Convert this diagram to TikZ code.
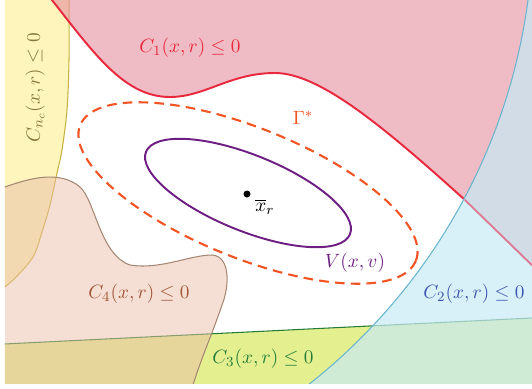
\documentclass[tikz,border=0pt]{standalone}
\usepackage{amsmath}
\usepackage{amssymb}
\usetikzlibrary{calc}

\definecolor{ncfill}{RGB}{253,245,188}
\definecolor{ncline}{RGB}{200,178,60}
\definecolor{nctext}{RGB}{135,120,60}
\definecolor{cofill}{RGB}{228,142,158}
\definecolor{coline}{RGB}{232,40,60}
\definecolor{copink}{RGB}{222,120,148}
\definecolor{cfourfill}{RGB}{235,191,169}
\definecolor{cfourline}{RGB}{165,135,115}
\definecolor{cfourtext}{RGB}{160,85,55}
\definecolor{cthreefill}{RGB}{201,223,33}
\definecolor{cthreeline}{RGB}{35,125,55}
\definecolor{ctwofill}{RGB}{199,234,245}
\definecolor{ctwoline}{RGB}{105,182,205}
\definecolor{ctwotext}{RGB}{60,85,175}
\definecolor{gammacol}{RGB}{242,85,35}
\definecolor{vcol}{RGB}{110,30,130}

\begin{document}
\begin{tikzpicture}[x=0.02cm,y=-0.02cm,
    lbl/.style={font=\fontsize{10.95}{13}\selectfont},
    edge/.style={line width=0.6pt}]

\useasboundingbox (0,0) rectangle (532,389);

% Key coordinates
\coordinate (O2) at (-56.5,-78.5);  % centre of the C_2 boundary
\coordinate (X) at (247,194);       % equilibrium
\coordinate (E) at (248,193);       % centre of the level sets
\coordinate (P) at (465,200);       % C_1 meets C_2
\coordinate (Q) at (540,273);
\coordinate (L3) at (-10,344.7);
\coordinate (R3) at (540,317.6);

\begin{scope}
\clip (5,0) rectangle (532,383);

% C_nc region
\filldraw[ncfill, draw=ncline, edge]
  plot[smooth] coordinates {(69,-10) (69,60) (67,110) (62,150) (57,173)
    (50,205) (42,232) (33,257) (13,280) (-10,298)}
  -- (-10,-10) -- cycle;

% C_1 region
\filldraw[fill=cofill, fill opacity=0.6, draw=coline, line width=1.1pt]
  (46,-8) -- (52,0) .. controls (95,55) and (125,97) .. (170,97)
  .. controls (205,97) and (230,73) .. (275,73)
  .. controls (320,73) and (385,128) .. (P) -- (Q)
  -- (560,-20) -- (46,-20) -- cycle;

% C_3 region
\filldraw[fill=cthreefill, fill opacity=0.5, draw=cthreeline, edge]
  (L3) -- (R3) -- (540,400) -- (-10,400) -- cycle;

% C_4 region
\filldraw[fill=cfourfill, fill opacity=0.5, draw=cfourline, edge]
  (-10,190) -- (5,187) .. controls (30,178) and (60,170) .. (80,187)
  .. controls (95,200) and (100,255) .. (130,265)
  .. controls (160,270) and (190,255) .. (212,255)
  .. controls (230,256) and (230,285) .. (222,305)
  .. controls (212,335) and (200,360) .. (190,395)
  -- (-10,395) -- cycle;

% C_2 region
\fill[ctwofill, fill opacity=0.7, even odd rule]
  (-20,-20) rectangle (560,420) (O2) circle (589.7);
\draw[ctwoline, edge] (O2) circle (589.7);
\draw[copink, line width=0.9pt] (P) -- (Q);
\end{scope}

% Gamma*
\draw[gammacol, line width=1.2pt, dash pattern=on 5.5pt off 3.5pt,
  shift={(E)}, rotate=-22] (0,0) ellipse (181 and 65);

% V(x,v)
\draw[vcol, line width=1.1pt, shift={(E)}, rotate=-22]
  (0,0) ellipse (110 and 38);

% Equilibrium
\fill (X) circle (3.5);
\node[lbl] (lxr) at (265,207) {$\overline{x}_r$};

% Labels
\node[lbl, text=coline] (lcone) at (190,48) {$C_1(x,r)\leq 0$};
\node[lbl, text=nctext, rotate=90] (lcnc) at (35,88) {$C_{n_c}(x,r)\leq 0$};
\node[lbl, text=gammacol] (lgamma) at (303,118) {$\Gamma^*$};
\node[lbl, text=vcol] (lv) at (355,263) {$V(x,v)$};
\node[lbl, text=ctwotext] (lctwo) at (474,294) {$C_2(x,r)\leq 0$};
\node[lbl, text=cfourtext] (lcfour) at (139,294) {$C_4(x,r)\leq 0$};
\node[lbl, text=cthreeline] (lcthree) at (263,359) {$C_3(x,r)\leq 0$};

\end{tikzpicture}
\end{document}
